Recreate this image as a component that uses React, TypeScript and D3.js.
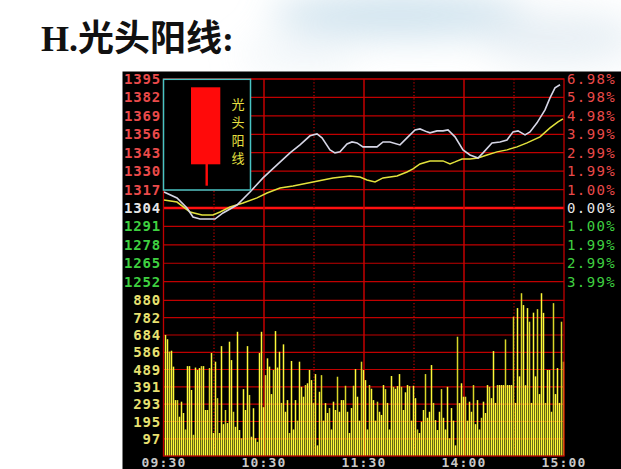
import React from "react";
import * as d3 from "d3";

// ---- data ----
const priceTicks = [1395, 1382, 1369, 1356, 1343, 1330, 1317, 1304, 1291, 1278, 1265, 1252];
const pctLabels = ["6.98%", "5.98%", "4.98%", "3.99%", "2.99%", "1.99%", "1.00%", "0.00%", "1.00%", "1.99%", "2.99%", "3.99%"];
const volTicks = [880, 782, 684, 586, 489, 391, 293, 195, 97];
const timeTicks = [0, 60, 120, 180, 240];
const timeLabels = ["09:30", "10:30", "11:30", "14:00", "15:00"];
const gridTimes = [30, 60, 90, 120, 150, 180, 210];
const solidTimes = [60, 120, 180];

// price line (minute, price)
const priceT = [0, 7.8, 13.8, 17.4, 21.6, 30.6, 35.4, 43.8, 51.6, 59.4, 67.8, 75.6, 81.6, 87.6, 91.8, 94.8, 99.6, 102.6, 105.6, 109.8, 112.8, 115.8, 119.4, 127.8, 131.4, 135.6, 141.6, 145.8, 150.6, 153.6, 157.8, 159.6, 163.8, 167.4, 170.4, 174.6, 179.4, 183.6, 188.4, 191.4, 196.8, 201.6, 205.8, 209.4, 212.4, 216.6, 219.6, 223.8, 228.6, 231.6, 234.6, 237.6];
const priceV = [1315.3, 1311.1, 1304.0, 1297.6, 1296.2, 1296.2, 1300.5, 1306.1, 1315.3, 1325.2, 1334.4, 1342.9, 1348.5, 1354.9, 1356.3, 1353.5, 1345.0, 1342.9, 1343.6, 1349.2, 1350.6, 1349.9, 1347.1, 1347.1, 1350.6, 1350.6, 1348.5, 1353.5, 1359.1, 1359.8, 1357.7, 1357.0, 1358.4, 1358.4, 1359.1, 1354.2, 1345.0, 1341.4, 1339.3, 1342.9, 1349.9, 1350.6, 1352.0, 1357.7, 1358.4, 1355.6, 1357.7, 1364.1, 1373.2, 1381.7, 1388.8, 1390.9];

// average line (minute, price)
const avgT = [0, 7.8, 15.6, 22.8, 29.4, 33.6, 39.6, 47.4, 55.8, 61.8, 69.6, 77.4, 89.4, 101.4, 111.6, 117.6, 121.8, 126.6, 131.4, 139.8, 145.8, 149.4, 153.6, 159.6, 167.4, 171.6, 174.6, 178.8, 183.6, 188.4, 193.8, 199.8, 205.8, 211.8, 217.8, 225.6, 231.6, 236.4, 239.4];
const avgV = [1309.7, 1308.2, 1301.2, 1299.1, 1299.1, 1301.2, 1304.7, 1307.5, 1311.1, 1314.6, 1318.1, 1319.5, 1322.4, 1325.2, 1326.6, 1325.9, 1323.8, 1322.4, 1325.2, 1326.6, 1329.4, 1331.6, 1335.1, 1337.2, 1337.2, 1335.1, 1336.5, 1338.6, 1338.6, 1339.3, 1341.4, 1343.6, 1345.0, 1347.1, 1349.9, 1354.2, 1360.5, 1364.8, 1366.9];

// volume bars
const volumes = [
  684, 660, 590, 595, 505, 316, 316, 222, 307, 243, 150, 508, 508, 373, 120, 500, 486, 497, 508, 508,
  260, 260, 497, 582, 130, 533, 327, 130, 621, 180, 260, 186, 646, 542, 250, 165, 702, 147, 100, 378,
  260, 621, 345, 109, 270, 100, 80, 582, 702, 276,
  457, 552, 505, 350, 486, 706, 500, 589, 300, 631, 250, 316, 130, 537, 150, 316, 200, 533, 391, 335,
  401, 411, 486, 429, 299, 463, 60, 363, 457, 200, 299, 243, 271, 150, 307, 260, 448, 250, 316, 316,
  397, 250, 130, 271, 397, 491, 335, 200, 533, 486,
  429, 150, 401, 380, 316, 200, 307, 250, 232, 401, 378, 300, 150, 452, 391, 380, 395, 463, 391, 260,
  360, 401, 395, 200, 397, 327, 150, 130, 194, 260, 463, 216, 250, 514, 300, 203, 147, 250, 378, 216,
  150, 391, 100, 271, 200, 60, 674, 299, 411, 335,
  335, 200, 307, 250, 401, 180, 316, 150, 216, 307, 243, 401, 391, 327, 593, 300, 401, 401, 401, 401,
  659, 401, 401, 401, 787, 300, 836, 450, 920, 853, 400, 836, 759, 300, 810, 450, 830, 350, 920, 809,
  300, 486, 486, 250, 864, 350, 497, 300, 759, 533,
];

const W = 621;
const H = 469;
const PL = 164, PR = 564;
const YTOP = 79, Y1252 = 281.7, VTOP = 300.3, VBOT = 456;

const labelFont = "'DejaVu Sans Mono', monospace";

export default function App() {
  const x = d3.scaleLinear().domain([0, 240]).range([PL, PR]);
  const yP = d3.scaleLinear().domain([1252, 1395]).range([Y1252, YTOP]);
  const yV = d3.scaleLinear().domain([0, 880]).range([VBOT, VTOP]);
  const xBar = d3.scaleLinear().domain([0, volumes.length]).range([PL, PR]);

  const line = d3
    .line<[number, number]>()
    .x((d) => x(d[0]))
    .y((d) => yP(d[1]))
    .curve(d3.curveLinear);

  const pricePts = priceT.map((t, i) => [t, priceV[i]] as [number, number]);
  const avgPts = avgT.map((t, i) => [t, avgV[i]] as [number, number]);

  const priceColor = (p: number) => (p > 1304 ? "#ea4a4a" : p === 1304 ? "#e6e6e6" : "#3fd040");

  return (
    <svg
      width={W}
      height={H}
      style={{ position: "absolute", left: 0, top: 0, display: "block" }}
      xmlns="http://www.w3.org/2000/svg"
    >
      <defs>
        <filter id="blur" x="-50%" y="-50%" width="200%" height="200%">
          <feGaussianBlur stdDeviation="18" />
        </filter>
      </defs>
      <rect x={0} y={0} width={W} height={H} fill="#ffffff" />
      {/* soft decorative background */}
      <g filter="url(#blur)" opacity={0.7}>
        <ellipse cx={400} cy={15} rx={130} ry={22} fill="#b9d6e6" />
        <ellipse cx={560} cy={38} rx={80} ry={25} fill="#dde8f0" />
        <ellipse cx={300} cy={55} rx={60} ry={12} fill="#e4eef4" />
      </g>

      {/* title */}
      <text
        x={41}
        y={51}
        fontSize={36}
        fontWeight="bold"
        fill="#111"
        fontFamily="'Liberation Serif', 'Noto Sans CJK SC', serif"
      >
        H.光头阳线:
      </text>

      {/* black panel */}
      <rect x={122.5} y={71.5} width={W - 122.5} height={H - 71.5} fill="#000" />

      {/* horizontal price grid */}
      {priceTicks.map((p) => (
        <line
          key={"pg" + p}
          x1={PL}
          x2={PR}
          y1={yP(p)}
          y2={yP(p)}
          stroke={p === 1304 ? "#ff1010" : "#c00000"}
          strokeWidth={p === 1304 ? 2.6 : 1.2}
        />
      ))}
      {/* horizontal volume grid */}
      {volTicks.map((v) => (
        <line key={"vg" + v} x1={PL} x2={PR} y1={yV(v)} y2={yV(v)} stroke="#c00000" strokeWidth={1.2} />
      ))}
      {/* vertical grid */}
      {gridTimes.map((t) => (
        <line
          key={"tg" + t}
          x1={x(t)}
          x2={x(t)}
          y1={YTOP}
          y2={VBOT}
          stroke={solidTimes.includes(t) ? "#d00000" : "#c00000"}
          strokeWidth={solidTimes.includes(t) ? 1.4 : 1.2}
          strokeDasharray={solidTimes.includes(t) ? undefined : "1.2,2"}
        />
      ))}

      {/* volume bars */}
      {volumes.map((v, i) => (
        <rect
          key={"b" + i}
          x={Math.round(xBar(i)) + 0.75}
          y={yV(v)}
          width={1.5}
          height={VBOT - yV(v)}
          fill={i % 4 === 2 ? "#d8d628" : "#fcf838"}
        />
      ))}

      {/* frame */}
      <rect x={PL - 0.5} y={YTOP} width={PR - PL + 0.5} height={VBOT - YTOP} fill="none" stroke="#c00000" strokeWidth={1.3} />

      {/* lines */}
      <path d={line(avgPts) || ""} fill="none" stroke="#e2e23c" strokeWidth={1.5} />
      <path d={line(pricePts) || ""} fill="none" stroke="#d6d6e6" strokeWidth={1.6} />

      {/* candle inset */}
      <rect x={163.5} y={79.3} width={87} height={110.7} fill="#000" stroke="#48c4c4" strokeWidth={1.5} />
      <rect x={191} y={87.3} width={29.3} height={77} fill="#ff0a0a" />
      <rect x={205.5} y={164} width={2.4} height={21.7} fill="#ff0a0a" />
      {["光", "头", "阳", "线"].map((c, i) => (
        <text
          key={c}
          x={238}
          y={103 + i * 18}
          fontSize={13}
          fill="#e8e040"
          textAnchor="middle"
          dominantBaseline="central"
          fontFamily="'Noto Sans CJK SC', sans-serif"
        >
          {c}
        </text>
      ))}

      {/* left labels */}
      {priceTicks.map((p) => (
        <text
          key={"pl" + p}
          x={161}
          y={yP(p)}
          dy="0.36em"
          textAnchor="end"
          fontSize={14}
          fontWeight="bold"
          letterSpacing={0.8}
          fill={priceColor(p)}
          fontFamily={labelFont}
        >
          {p}
        </text>
      ))}
      {volTicks.map((v) => (
        <text
          key={"vl" + v}
          x={161}
          y={yV(v)}
          dy="0.36em"
          textAnchor="end"
          fontSize={14}
          fontWeight="bold"
          letterSpacing={0.8}
          fill="#e8e070"
          fontFamily={labelFont}
        >
          {v}
        </text>
      ))}

      {/* right labels */}
      {priceTicks.map((p, i) => (
        <text
          key={"pr" + p}
          x={567}
          y={yP(p)}
          dy="0.36em"
          fontSize={14}
          letterSpacing={1.4}
          fill={priceColor(p)}
          fontFamily={labelFont}
        >
          {pctLabels[i]}
        </text>
      ))}

      {/* time labels */}
      {timeTicks.map((t, i) => (
        <text
          key={"tl" + t}
          x={x(t)}
          y={467}
          textAnchor="middle"
          fontSize={13}
          fontWeight="bold"
          letterSpacing={1.2}
          fill="#c8c8c8"
          fontFamily={labelFont}
        >
          {timeLabels[i]}
        </text>
      ))}
    </svg>
  );
}
